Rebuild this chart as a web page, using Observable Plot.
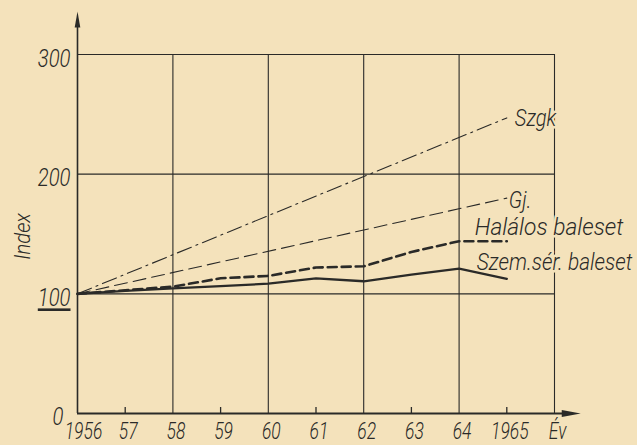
<!DOCTYPE html>
<html>
<head>
<meta charset="utf-8">
<script src="https://cdn.jsdelivr.net/npm/d3@7"></script>
<script src="https://cdn.jsdelivr.net/npm/@observablehq/plot@0.6"></script>
<style>
  html, body { margin: 0; padding: 0; background: #f4e2bb; }
</style>
</head>
<body>
<div id="chart"></div>
<script>
// ---- data ----
const years = [1956, 1957, 1958, 1959, 1960, 1961, 1962, 1963, 1964, 1965];
const halalos = [100, 103, 106, 113, 115, 122, 123, 135, 144, 144];       // Halálos baleset
const szemser = [100, 102.5, 104.5, 106.5, 108.5, 113, 110.5, 116, 121, 112.5]; // Szem.sér. baleset
const trendYears = [1956, 1965];
const szgk = [100, 247];  // Szgk
const gj = [100, 180];    // Gj.

const xTickYears = [1956, 1957, 1958, 1959, 1960, 1961, 1962, 1963, 1964, 1965, 1966];
const xTickLabels = ["1956", "57", "58", "59", "60", "61", "62", "63", "64", "1965", "Év"];
const minorTickYears = [1957, 1959, 1961, 1963, 1965];
const gridYears = [1958, 1960, 1962, 1964, 1966];
const yTicks = [0, 100, 200, 300];
const yGrid = [100, 200, 300];
const xAxisEnd = 1966.55;
const yAxisEnd = 336;

// ---- styling ----
const paper = "#f4e2bb";
const ink = "#2a2a28";
const font = "Roboto, 'DejaVu Sans Condensed', sans-serif";
const weight = 300;

const rows = (xs, ys) => xs.map((x, i) => ({x, y: ys[i]}));
const halRows = rows(years, halalos);
const szemRows = rows(years, szemser);
const szgkRows = rows(trendYears, szgk);
const gjRows = rows(trendYears, gj);
const last = (a) => a[a.length - 1];

const arrowRight = {draw(ctx) { ctx.moveTo(0, 0); ctx.lineTo(-19, -3.5); ctx.lineTo(-19, 3.5); ctx.closePath(); }};
const arrowUp = {draw(ctx) { ctx.moveTo(0, 0); ctx.lineTo(-2.8, 16); ctx.lineTo(2.8, 16); ctx.closePath(); }};

const seriesLabels = [
  {text: "Szgk", x: 1965, y: last(szgk), dx: 8, dy: 0, s: 0.84},
  {text: "Gj.", x: 1965, y: last(gj), dx: 2, dy: 2, s: 0.84},
  {text: "Halálos baleset", x: 1965, y: last(halalos), dx: -32, dy: -14, s: 0.95},
  {text: "Szem.sér. baleset", x: 1965, y: last(szemser), dx: -30, dy: -17, s: 0.87}
];

const txt = {fontStyle: "italic", fontWeight: weight, fill: ink, lineAnchor: "middle"};

const chart = Plot.plot({
  width: 637,
  height: 445,
  marginLeft: 77,
  marginRight: 83,
  marginTop: 54,
  marginBottom: 32,
  x: {domain: [1956, 1966], axis: null},
  y: {domain: [0, 300], axis: null},
  style: {background: paper, color: ink, fontFamily: font},
  marks: [
    // grid
    Plot.ruleX(gridYears, {x: d => d, y1: 0, y2: 300, stroke: ink, strokeWidth: 1.1}),
    Plot.ruleY(yGrid, {y: d => d, x1: 1956, x2: 1966, stroke: ink, strokeWidth: 1.1}),
    // series labels (with paper halo to break the grid)
    ...seriesLabels.map(l => Plot.text([l], {
      ...txt, x: "x", y: "y", text: "text", dx: l.dx, dy: l.dy,
      textAnchor: "start", fontSize: 24, stroke: paper, strokeWidth: 5
    })),
    // series
    Plot.line(szgkRows, {x: "x", y: "y", stroke: ink, strokeWidth: 1.1, strokeDasharray: "15,5,2,5"}),
    Plot.line(gjRows, {x: "x", y: "y", stroke: ink, strokeWidth: 1.1, strokeDasharray: "13,6"}),
    Plot.line(halRows, {x: "x", y: "y", stroke: ink, strokeWidth: 2.6, strokeDasharray: "9,5"}),
    Plot.line(szemRows, {x: "x", y: "y", stroke: ink, strokeWidth: 2.3}),
    // axes
    Plot.ruleY([0], {x1: 1956, x2: xAxisEnd - 0.3, stroke: ink, strokeWidth: 2}),
    Plot.ruleX([1956], {y1: 0, y2: yAxisEnd - 10, stroke: ink, strokeWidth: 1.6}),
    Plot.dot([{x: xAxisEnd, y: 0}], {x: "x", y: "y", symbol: arrowRight, fill: ink, stroke: "none", r: 5}),
    Plot.dot([{x: 1956, y: yAxisEnd}], {x: "x", y: "y", symbol: arrowUp, fill: ink, stroke: "none", r: 5}),
    Plot.ruleX(minorTickYears, {x: d => d, y1: 0, y2: 5, stroke: ink, strokeWidth: 1.3}),
    // tick labels
    Plot.text(xTickYears.slice(0, 1), {
      ...txt, x: d => d, y: 0, text: (d, i) => xTickLabels[i], dy: 18, dx: 6,
      textAnchor: "middle", fontSize: 23
    }),
    Plot.text(xTickYears.slice(1), {
      ...txt, x: d => d, y: 0, text: (d, i) => xTickLabels[i + 1], dy: 18, dx: 3,
      textAnchor: "middle", fontSize: 23
    }),
    Plot.text(yTicks.filter(d => d > 0), {
      ...txt, x: 1956, y: d => d, text: d => String(d), dx: -7, dy: 4,
      textAnchor: "end", fontSize: 26
    }),
    Plot.text([0], {
      ...txt, x: 1956, y: d => d, text: d => String(d), dx: -14, dy: 3,
      textAnchor: "end", fontSize: 26
    }),
    Plot.text(["Index"], {
      ...txt, frameAnchor: "left", y: 148, text: d => d, dx: -55, rotate: -90,
      textAnchor: "middle", fontSize: 22
    })
  ]
});

// condense the lettering like the drafted original
const labelScale = new Map(seriesLabels.map(l => [l.text, l.s]));
const xLabelSet = new Set(xTickLabels);
d3.select(chart).selectAll("text").each(function() {
  const t = this.textContent;
  let s = 0.78;
  if (labelScale.has(t)) s = labelScale.get(t);
  else if (xLabelSet.has(t)) s = 0.76;
  else if (t === "Index") s = 0.92;
  const x = +this.getAttribute("x") || 0;
  const y = +this.getAttribute("y") || 0;
  const tr = this.getAttribute("transform") || "";
  this.setAttribute("transform", `${tr} translate(${x},${y}) scale(${s},1) translate(${-x},${-y})`);
  if (t === "100") {
    this.style.textDecoration = "underline";
    this.style.textDecorationThickness = "1.4px";
    this.style.textUnderlineOffset = "3px";
  }
});

document.getElementById("chart").appendChild(chart);
</script>
</body>
</html>
